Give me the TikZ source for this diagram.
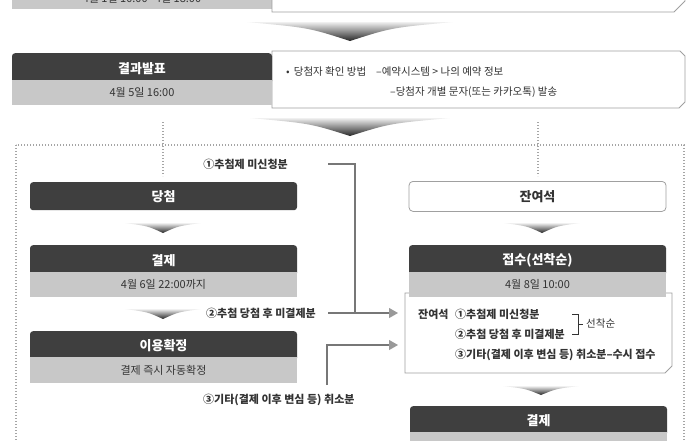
\documentclass[tikz,border=0pt]{standalone}
\usepackage{fontspec}
\setmainfont{Noto Sans CJK KR}
\usetikzlibrary{arrows.meta}
\definecolor{hdrc}{HTML}{3F3F3F}
\definecolor{lbarc}{HTML}{C8C8C8}
\definecolor{txtc}{HTML}{333333}
\definecolor{edgec}{HTML}{A0A0A0}
\definecolor{connc}{HTML}{777777}
\definecolor{arrc}{HTML}{999999}
\definecolor{dotc}{HTML}{A5A5A5}
\newcommand\gradarrow[4]{%
  \shade[top color=gray!12, middle color=gray!60, bottom color=black!85]
    ({#1-#3},{#2}) -- ({#1+#3},{#2})
    .. controls ({#1+0.4*#3},{#2+0.3*#4}) .. ({#1},{#2+#4})
    .. controls ({#1-0.4*#3},{#2+0.3*#4}) .. cycle;}
\begin{document}
\begin{tikzpicture}[x=1pt,y=-1pt,
  hdr/.style={fill=hdrc, text=white, font=\bfseries\fontsize{13}{15}\selectfont, rounded corners=3pt, inner sep=0pt, anchor=north},
  sub/.style={fill=lbarc, text=txtc, font=\fontsize{11}{13}\selectfont, inner sep=0pt, anchor=north},
  lbl/.style={font=\bfseries\fontsize{11}{13}\selectfont, text=txtc, inner sep=0pt},
  note/.style={font=\fontsize{10.5}{12}\selectfont, text=txtc, inner sep=0pt, anchor=west},
  notebold/.style={note, font=\bfseries\fontsize{11}{13}\selectfont},
  infobox/.style={draw=edgec, fill=white, line width=0.8pt},
  conn/.style={draw=connc, line width=1.1pt},
  tip/.style={-{Triangle[length=9pt,width=10pt,color=arrc]}},
  dotline/.style={draw=dotc, line width=1.3pt, dash pattern=on 1.3pt off 1.7pt}
]
\useasboundingbox (0,0) rectangle (700,440);
\clip (0,0) rectangle (700,440);

% top (cut off) step
\node[sub, minimum width=260pt, minimum height=22pt] (prev) at (142,-13) {4월 1일 10:00 ~ 4일 18:00};
\draw[infobox] (272,-5) -- (685,-5) -- (685,1) -- (674,12) -- (272,12) -- cycle;

\gradarrow{350}{22}{103}{19}

% result announcement
\draw[infobox] (272,51) -- (680,51) -- (685,56) -- (685,102) -- (679,108) -- (272,108) -- cycle;
\node[hdr, minimum width=260pt, minimum height=31pt] (res) at (142,53) {\raisebox{2pt}{결과발표}};
\node[sub, minimum width=260pt, minimum height=25pt] (resd) at (142,80) {4월 5일 16:00};
\node[note] (how) at (286,72) {•\, 당첨자 확인 방법};
\node[note] (how1) at (376,72) {–예약시스템 > 나의 예약 정보};
\node[note] (how2) at (390,92) {–당첨자 개별 문자(또는 카카오톡) 발송};

\gradarrow{350}{118}{100}{18}

% dotted frame
\draw[dotline] (16,145) rectangle (684,470);
\draw[dotline] (163,122) -- (163,176);
\draw[dotline] (538,122) -- (538,176);

% left column
\node[hdr, minimum width=267pt, minimum height=28pt] (win) at (163.5,182) {당첨};
\gradarrow{163}{223}{38}{10}
\node[hdr, minimum width=267pt, minimum height=31pt] (payL) at (163.5,245) {\raisebox{2pt}{결제}};
\node[sub, minimum width=267pt, minimum height=25pt] (payLd) at (163.5,272) {4월 6일 22:00까지};
\gradarrow{163}{309}{38}{10}
\node[hdr, minimum width=267pt, minimum height=30pt] (conf) at (163.5,331) {\raisebox{2pt}{이용확정}};
\node[sub, minimum width=267pt, minimum height=26pt] (confd) at (163.5,357) {결제 즉시 자동확정};

% right column
\node[draw=edgec, fill=white, line width=0.8pt, rounded corners=4pt, minimum width=257pt, minimum height=30pt,
      font=\bfseries\fontsize{13}{15}\selectfont, text=txtc, anchor=north, inner sep=0pt] (rem) at (537.5,181) {잔여석};
\gradarrow{542}{223}{38}{10}
\draw[infobox] (405,293) -- (672,293) -- (672,366) -- (665,373) -- (405,373) -- cycle;
\node[hdr, minimum width=257pt, minimum height=31pt] (recv) at (537.5,245) {\raisebox{2pt}{접수(선착순)}};
\node[sub, minimum width=257pt, minimum height=25pt] (recvd) at (537.5,272) {4월 8일 10:00};
\node[notebold] (n0) at (418,314) {잔여석};
\node[notebold] (n1) at (455,314) {①추첨제 미신청분};
\node[notebold] (n2) at (455,334) {②추첨 당첨 후 미결제분};
\node[notebold] (n3) at (455,355) {③기타(결제 이후 변심 등) 취소분–수시 접수};
\draw[draw=txtc, line width=0.7pt] (572,314) -- (578,314) -- (578,334) -- (572,334);
\draw[draw=txtc, line width=0.7pt] (578,324) -- (583,324);
\node[note] (fcfs) at (586,324) {선착순};
\gradarrow{541}{386}{38}{9}
\node[hdr, minimum width=257pt, minimum height=30pt] (payR) at (538.5,406) {\raisebox{2pt}{결제}};
\node[sub, minimum width=257pt, minimum height=20pt] (payRd) at (538.5,432) {};

% labels and connectors
\node[lbl, anchor=east] (l1) at (288,164) {①추첨제 미신청분};
\node[lbl, anchor=east] (l2) at (316,313) {②추첨 당첨 후 미결제분};
\node[lbl, anchor=west] (l3) at (203,400) {③기타(결제 이후 변심 등) 취소분};
\coordinate (c1) at (328,164);
\coordinate (c2) at (328,313);
\coordinate (c3) at (327,385);
\coordinate (j) at (355,313);
\coordinate (t2) at (398,313);
\coordinate (t3) at (398,345);
\draw[conn] (c1) -| (j);
\draw[conn, tip] (c2) -- (t2);
\draw[conn, tip] (c3) |- (t3);
\end{tikzpicture}
\end{document}
